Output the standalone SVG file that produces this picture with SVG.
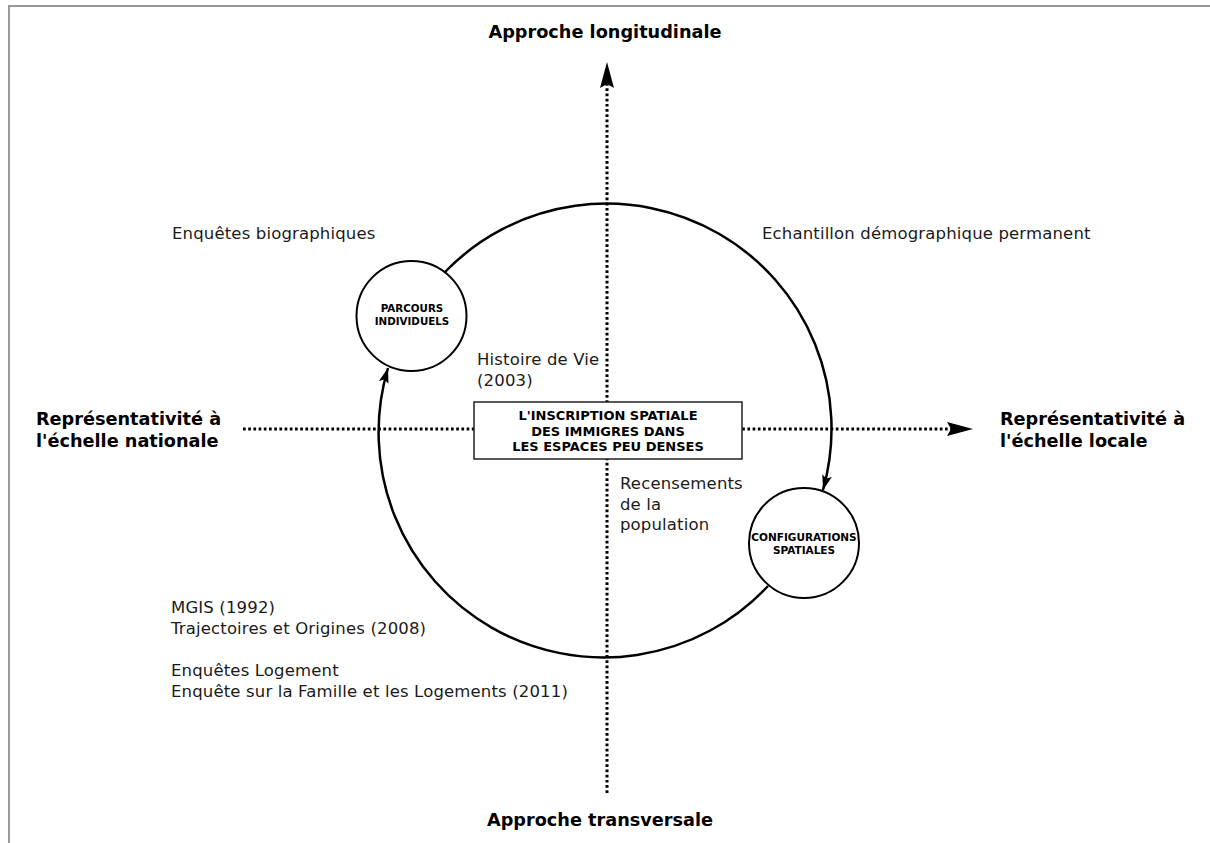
<svg xmlns="http://www.w3.org/2000/svg" width="1210" height="843" viewBox="0 0 1210 843">
<style>
.t{font-family:"DejaVu Sans","Liberation Sans",sans-serif;font-size:16.5px;letter-spacing:0.15px;fill:#1a1a1a}
.b{font-family:"DejaVu Sans","Liberation Sans",sans-serif;font-size:17.7px;font-weight:bold;fill:#000}
.n{font-family:"DejaVu Sans","Liberation Sans",sans-serif;font-weight:bold;fill:#000;text-anchor:middle}
.axis{fill:none;stroke:#000;stroke-width:3;stroke-dasharray:2.7 2.5}
.arc{fill:none;stroke:#000;stroke-width:2.5}
.node{fill:#fff;stroke:#000;stroke-width:2}
</style>
<defs>
<marker id="big" markerUnits="userSpaceOnUse" markerWidth="30" markerHeight="18" viewBox="0 -9 30 18" refX="4" refY="0" orient="auto">
<path d="M0,-7 L26,0 L0,7 L4,0 z" fill="#000"/>
</marker>
<marker id="small" markerUnits="userSpaceOnUse" markerWidth="18" markerHeight="12" viewBox="0 -6 18 12" refX="15" refY="0" orient="auto">
<path d="M0,-5 L15,0 L0,5 L3,0 z" fill="#000"/>
</marker>
</defs>
<g id="frame" stroke="#999" stroke-width="2" fill="none">
<path d="M9,843 V6 H1210"/>
</g>
<g id="connectors">
<path class="axis" d="M607,793 V84" marker-end="url(#big)"/>
<path class="axis" d="M243,429 H951" marker-end="url(#big)"/>
<path class="arc" d="M445,272 A225,225 0 0 1 823,490" marker-end="url(#small)"/>
<path class="arc" d="M768,586 A225,225 0 0 1 388,368" marker-end="url(#small)"/>
</g>
<g id="center">
<rect x="474" y="402" width="268" height="57" fill="#fff" stroke="#222" stroke-width="1.5"/>
<text class="n" font-size="13" x="608" y="420">L'INSCRIPTION SPATIALE</text>
<text class="n" font-size="13" x="608" y="436">DES IMMIGRES DANS</text>
<text class="n" font-size="13" x="608" y="451">LES ESPACES PEU DENSES</text>
</g>
<g id="parcours">
<circle class="node" cx="411.5" cy="316" r="55"/>
<text class="n" font-size="10.3" x="412" y="312">PARCOURS</text>
<text class="n" font-size="10.3" x="412" y="325">INDIVIDUELS</text>
</g>
<g id="configurations">
<circle class="node" cx="804" cy="543" r="55"/>
<text class="n" font-size="10.5" x="804" y="541">CONFIGURATIONS</text>
<text class="n" font-size="10.5" x="804" y="554">SPATIALES</text>
</g>
<g id="axis-labels">
<text class="b" x="605" y="38" text-anchor="middle" font-size="18.9">Approche longitudinale</text>
<text class="b" x="600" y="826" text-anchor="middle" font-size="17.9">Approche transversale</text>
<text class="b" x="36" y="425">Représentativité à</text>
<text class="b" x="36" y="447">l'échelle nationale</text>
<text class="b" x="1000" y="425">Représentativité à</text>
<text class="b" x="1000" y="447">l'échelle locale</text>
</g>
<g id="sources">
<text class="t" x="172" y="239">Enquêtes biographiques</text>
<text class="t" x="762" y="239">Echantillon démographique permanent</text>
<text class="t" x="477" y="365">Histoire de Vie</text>
<text class="t" x="477" y="386">(2003)</text>
<text class="t" x="620" y="489">Recensements</text>
<text class="t" x="620" y="510">de la</text>
<text class="t" x="620" y="530">population</text>
<text class="t" x="171" y="613">MGIS (1992)</text>
<text class="t" x="171" y="634">Trajectoires et Origines (2008)</text>
<text class="t" x="171" y="676">Enquêtes Logement</text>
<text class="t" x="171" y="697">Enquête sur la Famille et les Logements (2011)</text>
</g>
</svg>
